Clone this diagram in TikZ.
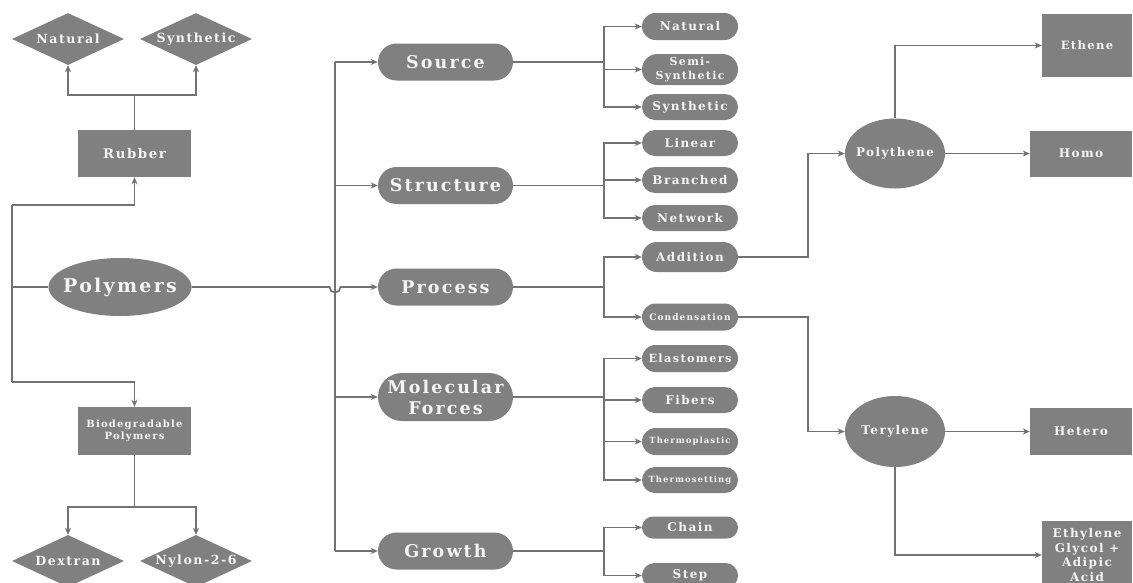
\documentclass[tikz,border=0pt]{standalone}
\usepackage{fontspec}
\setmainfont{DejaVu Serif}[LetterSpace=12]
\usetikzlibrary{shapes.geometric,shapes.misc,arrows.meta}
\definecolor{boxc}{HTML}{808080}
\definecolor{linec}{HTML}{727272}
\definecolor{textc}{HTML}{F4F4F4}
\newcommand{\fs}[1]{\fontsize{#1}{1.2\dimexpr #1pt\relax}\selectfont}
\newcommand{\nowide}[1]{\makebox[0pt]{#1}}
\tikzset{
  base/.style={fill=boxc,text=textc,font=\bfseries,inner sep=0pt,align=center},
  pill/.style={base,rounded rectangle,rounded rectangle arc length=180},
  rectbox/.style={base,rectangle},
  ellbox/.style={base,ellipse},
  diabox/.style={base,diamond,aspect=2.3,minimum width=112,minimum height=52},
  conn/.style={draw=linec,line width=1.7pt},
  arr/.style={conn,-{Stealth[length=7pt,width=6pt,inset=2pt]}},
}
\begin{document}
\begin{tikzpicture}[x=1pt,y=-1pt]
\useasboundingbox[fill=white] (0,0) rectangle (1133,582);

% ---- left part
\node[ellbox,minimum width=143,minimum height=58,font=\bfseries\fs{19}] (poly) at (120,287) {\nowide{Polymers}};
\node[rectbox,minimum width=113,minimum height=47,font=\bfseries\fs{13.3}] (rubber) at (134.5,153.5) {Rubber};
\node[rectbox,minimum width=113,minimum height=48,font=\bfseries\fs{10},text width=110] (bio) at (134.5,431) {Biodegradable\\Polymers};
\node[diabox,font=\bfseries\fs{12.6}] (nat) at (68,39) {Natural};
\node[diabox,font=\bfseries\fs{12.6}] (syn) at (196,39) {Synthetic};
\node[diabox,font=\bfseries\fs{12.6}] (dex) at (68,561) {Dextran};
\node[diabox,font=\bfseries\fs{12.6}] (nyl) at (196,561) {Nylon-2-6};

\coordinate (rj) at (134.5,95);
\coordinate (bj) at (134.5,507);
\coordinate (lb1) at (12,205);
\coordinate (lb2) at (12,382);

\draw[conn] (rubber.north) -- (rj);
\draw[arr] (rj) -| (nat.south);
\draw[arr] (rj) -| (syn.south);
\draw[conn] (lb1) -- (lb2);
\draw[conn] (poly.west) -- (poly.west -| lb1);
\draw[arr] (lb1) -| (rubber.south);
\draw[arr] (lb2) -| (bio.north);
\draw[conn] (bio.south) -- (bj);
\draw[arr] (bj) -| (dex.north);
\draw[arr] (bj) -| (nyl.north);

% ---- middle column
\tikzset{bp/.style={pill,minimum width=135,minimum height=37,font=\bfseries\fs{17.5}}}
\node[bp] (source) at (445.5,62) {Source};
\node[bp] (struct) at (445.5,185.5) {Structure};
\node[bp] (process) at (445.5,287) {Process};
\node[bp,minimum height=48] (molec) at (445.5,397) {Molecular\\Forces};
\node[bp] (growth) at (445.5,551) {Growth};

\coordinate (mb1) at (335,62);
\coordinate (mb2) at (335,551);
\coordinate (hop) at (329.5,287);
\draw[conn] (mb1) -- (mb2);
\draw[arr] (mb1) -- (source.west);
\draw[arr] (struct.west -| mb1) -- (struct.west);
\draw[arr] (molec.west -| mb1) -- (molec.west);
\draw[arr] (mb2) -- (growth.west);
\draw[arr] (poly.east) -- (hop) arc[start angle=180,end angle=0,radius=5.5] -- (process.west);

% ---- small pills
\tikzset{sp/.style={pill,minimum width=96,font=\bfseries\fs{12}}}
\node[sp,minimum height=27] (n1) at (690,26.5) {Natural};
\node[sp,minimum height=31,font=\bfseries\fs{11}] (n2) at (690,69.5) {Semi-\\[1pt]Synthetic};
\node[sp,minimum height=26] (n3) at (690,107) {Synthetic};
\node[sp,minimum height=26] (s1) at (690,143) {Linear};
\node[sp,minimum height=26] (s2) at (690,180) {Branched};
\node[sp,minimum height=26] (s3) at (690,218) {Network};
\node[sp,minimum height=30] (p1) at (690,257) {Addition};
\node[sp,minimum height=27,font=\bfseries\fs{9}] (p2) at (690,317) {Condensation};
\node[sp,minimum height=27,font=\bfseries\fs{11.3}] (m1) at (690,358.5) {Elastomers};
\node[sp,minimum height=26] (m2) at (690,400) {Fibers};
\node[sp,minimum height=27,font=\bfseries\fs{8.5}] (m3) at (690,441.5) {Thermoplastic};
\node[sp,minimum height=26,font=\bfseries\fs{8.5}] (m4) at (690,480) {Thermosetting};
\node[sp,minimum height=22] (g1) at (690,527.5) {Chain};
\node[sp,minimum height=25] (g2) at (690,575.5) {Step};

\coordinate (rb) at (604,0);
\foreach \mum/\kid in {source/n1,source/n2,source/n3,struct/s1,struct/s2,struct/s3,process/p1,process/p2,molec/m1,molec/m2,molec/m3,molec/m4,growth/g1,growth/g2}{
  \draw[arr] (\mum.east) -- (\mum.east -| rb) |- (\kid.west);
}

% ---- right part
\node[ellbox,minimum width=100,minimum height=70,font=\bfseries\fs{12}] (pe) at (895,153.5) {\nowide{Polythene}};
\node[ellbox,minimum width=100,minimum height=71,font=\bfseries\fs{12}] (ter) at (895,431.5) {\nowide{Terylene}};
\node[rectbox,minimum width=90,minimum height=63,font=\bfseries\fs{11.5}] (eth) at (1087,45.5) {Ethene};
\node[rectbox,minimum width=102,minimum height=46,font=\bfseries\fs{12}] (homo) at (1081,153.5) {Homo};
\node[rectbox,minimum width=102,minimum height=47,font=\bfseries\fs{12}] (het) at (1081,431.5) {Hetero};
\node[rectbox,minimum width=90,minimum height=68,font=\bfseries\fs{12}] (egl) at (1087,555) {Ethylene\\Glycol +\\Adipic\\Acid};

\draw[arr] (p1.east) -- ++(70,0) |- (pe.west);
\draw[arr] (p2.east) -- ++(70,0) |- (ter.west);
\draw[arr] (pe.north) |- (eth.west);
\draw[arr] (pe.east) -- (homo.west);
\draw[arr] (ter.east) -- (het.west);
\draw[arr] (ter.south) |- (egl.west);
\end{tikzpicture}
\end{document}
